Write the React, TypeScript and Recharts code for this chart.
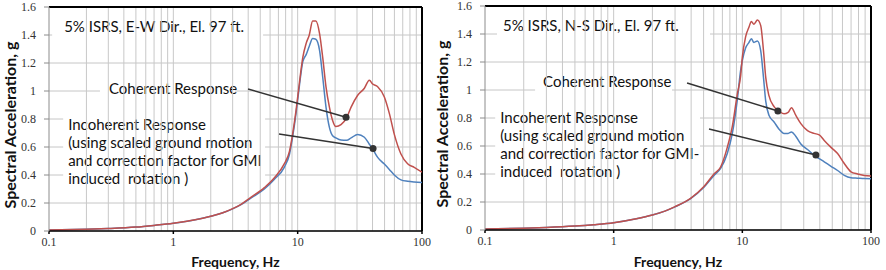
import React from "react"
import { LineChart, Line, XAxis, YAxis, CartesianGrid, ReferenceArea, ReferenceLine, ReferenceDot } from "recharts"

// axis ticks and grid
const xTicks = [0.1, 1, 10, 100]
const yTicks = [0, 0.2, 0.4, 0.6, 0.8, 1, 1.2, 1.4, 1.6]
const gridFreqs = [
  0.2, 0.3, 0.4, 0.5, 0.6, 0.7, 0.8, 0.9,
  1, 2, 3, 4, 5, 6, 7, 8, 9,
  10, 20, 30, 40, 50, 60, 70, 80, 90,
]

// E-W direction
const ewFreq = [
  0.1, 0.2, 0.3, 0.5, 0.7, 1, 1.5, 2, 2.5, 3, 3.5, 4.2, 5.4, 6.5, 7.8,
  8.6, 9.1, 9.7, 10.3, 11, 11.7, 12.4, 13.2, 14, 15, 15.9, 16.9, 18, 19.1, 20.3,
  22.3, 24.8, 26.9, 30.4, 34.4, 37.7, 40.1, 44, 49.8, 54.6, 59.9, 67.7, 76.6, 86.6, 100,
]
const ewCoherent = [
  0.008, 0.013, 0.018, 0.028, 0.04, 0.055, 0.08, 0.106, 0.13, 0.16, 0.19, 0.24, 0.31, 0.38, 0.48,
  0.57, 0.69, 0.86, 1.05, 1.24, 1.34, 1.4, 1.5, 1.5, 1.41, 1.24, 1.03, 0.885, 0.79, 0.746,
  0.76, 0.81, 0.885, 0.97, 1.02, 1.077, 1.05, 1.03, 0.957, 0.84, 0.69, 0.55, 0.48, 0.455, 0.42,
]
const ewIncoherent = [
  0.008, 0.013, 0.018, 0.028, 0.04, 0.055, 0.08, 0.105, 0.13, 0.158, 0.188, 0.235, 0.3, 0.37, 0.455,
  0.55, 0.67, 0.84, 1.03, 1.21, 1.26, 1.32, 1.375, 1.37, 1.29, 1.1, 0.885, 0.74, 0.68, 0.665,
  0.65, 0.648, 0.665, 0.69, 0.67, 0.62, 0.586, 0.526, 0.478, 0.44, 0.4, 0.365, 0.355, 0.35, 0.347,
]

// N-S direction
const nsFreq = [
  0.1, 0.2, 0.3, 0.5, 0.7, 1, 1.5, 2, 2.5, 3, 3.96, 5.03, 6.02, 6.78, 7.64,
  8.36, 9.14, 9.7, 10, 10.6, 11.27, 11.75, 12.3, 13.1, 13.9, 14.6, 15.2, 16.1, 17.7, 19.3,
  21.1, 22.7, 24.1, 26, 28.5, 32.1, 36.1, 39.6, 43.3, 48.9, 55, 62, 69.9, 78.7, 88.7, 100,
]
const nsCoherent = [
  0.008, 0.013, 0.018, 0.028, 0.038, 0.052, 0.08, 0.107, 0.135, 0.167, 0.226, 0.31, 0.4, 0.45, 0.59,
  0.74, 0.97, 1.1, 1.235, 1.38, 1.45, 1.49, 1.47, 1.5, 1.46, 1.28, 1.09, 0.96, 0.88, 0.85,
  0.83, 0.84, 0.874, 0.82, 0.76, 0.71, 0.69, 0.68, 0.64, 0.59, 0.546, 0.475, 0.416, 0.4, 0.39, 0.385,
]
const nsIncoherent = [
  0.008, 0.013, 0.018, 0.028, 0.038, 0.052, 0.08, 0.107, 0.135, 0.165, 0.224, 0.305, 0.39, 0.44, 0.546,
  0.69, 0.93, 1.14, 1.21, 1.3, 1.34, 1.366, 1.34, 1.35, 1.28, 1.09, 0.92, 0.82, 0.77, 0.72,
  0.69, 0.69, 0.7, 0.67, 0.615, 0.575, 0.535, 0.51, 0.487, 0.455, 0.425, 0.39, 0.373, 0.37, 0.367, 0.366,
]

const ewTitle = ["5% ISRS, E-W Dir., El. 97 ft."]
const nsTitle = ["5% ISRS, N-S Dir., El. 97 ft."]
const coherentText = ["Coherent Response"]
const ewIncoherentText = ["Incoherent Response", "(using scaled ground motion", "and correction factor for GMI", "induced  rotation )"]
const nsIncoherentText = ["Incoherent Response", "(using scaled ground motion", "and correction factor for GMI-", "induced  rotation )"]

const RED = "#c0504d"
const BLUE = "#4f81bd"
const TEXT_FONT = "Lato, 'Open Sans', sans-serif"
const TICK_FONT = "'Liberation Serif', serif"

// white label boxes, in data units
const ewNotes = [
  { x1: 0.106, x2: 5.27, y1: 1.343, y2: 1.557, lines: ewTitle, padX: 12, padTop: 19 },
  { x1: 0.257, x2: 3.13, y1: 0.921, y2: 1.093, lines: coherentText, padX: 9, padTop: 16 },
  { x1: 0.13, x2: 5.47, y1: 0.314, y2: 0.829, lines: ewIncoherentText, padX: 5, padTop: 15 },
]
const nsNotes = [
  { x1: 0.124, x2: 5.61, y1: 1.336, y2: 1.55, lines: nsTitle, padX: 6, padTop: 18 },
  { x1: 0.245, x2: 2.84, y1: 0.964, y2: 1.143, lines: coherentText, padX: 8, padTop: 17 },
  { x1: 0.12, x2: 4.69, y1: 0.329, y2: 0.879, lines: nsIncoherentText, padX: 5, padTop: 16 },
]
// leader lines: [x0, y0, x1, y1]
const ewArrows = [
  [3.99, 1.014, 24.5, 0.812],
  [7.08, 0.693, 40.4, 0.59],
]
const nsArrows = [
  [3.72, 1.05, 18.9, 0.85],
  [5.51, 0.721, 37.3, 0.535],
]

function BoxText({ viewBox, note }: any) {
  if (!viewBox) return null
  const x = viewBox.x + note.padX
  return (
    <text x={x} y={viewBox.y + note.padTop} fontFamily={TEXT_FONT} fontSize={15} fill="#111" style={{ whiteSpace: "pre" }}>
      {note.lines.map((l: string, i: number) => (
        <tspan key={i} x={x} dy={i === 0 ? 0 : 18}>{l}</tspan>
      ))}
    </text>
  )
}

function YTitle({ viewBox }: any) {
  if (!viewBox) return null
  const cx = viewBox.x + 9
  const cy = viewBox.y + viewBox.height / 2 + 6
  return (
    <text x={cx} y={cy} transform={`rotate(-90 ${cx} ${cy})`} textAnchor="middle" dominantBaseline="central"
      fontFamily={TEXT_FONT} fontWeight={700} fontSize={16} fill="#111">
      Spectral Acceleration, g
    </text>
  )
}

function XTitle({ viewBox }: any) {
  if (!viewBox) return null
  const cx = viewBox.x + viewBox.width / 2
  const cy = viewBox.y + viewBox.height - 9
  return (
    <text x={cx} y={cy} textAnchor="middle" dominantBaseline="central"
      fontFamily={TEXT_FONT} fontWeight={700} fontSize={14} fill="#111">
      Frequency, Hz
    </text>
  )
}

function SpectrumChart({ width, margin, yAxisWidth, xAxisHeight, freq, coherent, incoherent, notes, arrows }: any) {
  const data = freq.map((f: number, i: number) => ({ f, coherent: coherent[i], incoherent: incoherent[i] }))
  return (
    <LineChart width={width} height={270} data={data} margin={margin} style={{ overflow: "visible" }}>
      <CartesianGrid stroke="#c6c6c6" vertical={false} />
      {gridFreqs.map((g) => (
        <ReferenceLine key={`g${g}`} x={g} stroke="#c8c8c8" strokeWidth={1} />
      ))}
      {notes.map((n: any, i: number) => (
        <ReferenceArea key={`n${i}`} x1={n.x1} x2={n.x2} y1={n.y1} y2={n.y2} fill="#fff" fillOpacity={1}
          stroke="none" ifOverflow="visible" label={{ content: (p: any) => <BoxText viewBox={p.viewBox} note={n} /> }} />
      ))}
      <XAxis dataKey="f" type="number" scale="log" domain={[0.1, 100]} ticks={xTicks} allowDataOverflow
        height={xAxisHeight} tickSize={3} tickMargin={3} stroke="#000" strokeWidth={1.5}
        tick={{ fontFamily: TICK_FONT, fontSize: 12, fill: "#333" }}
        label={{ content: (p: any) => <XTitle viewBox={p.viewBox} /> }} />
      <YAxis type="number" domain={[0, 1.6]} ticks={yTicks} interval={0} width={yAxisWidth}
        tickSize={5} tickMargin={8} stroke="#8c8c8c"
        tick={{ fontFamily: TICK_FONT, fontSize: 12, fill: "#333" }}
        label={{ content: (p: any) => <YTitle viewBox={p.viewBox} /> }} />
      <ReferenceLine y={1.6} stroke="#000" strokeWidth={2} />
      <ReferenceLine x={100} stroke="#000" strokeWidth={2} />
      <Line type="monotone" dataKey="incoherent" stroke={BLUE} strokeWidth={1.5} dot={false} isAnimationActive={false} />
      <Line type="monotone" dataKey="coherent" stroke={RED} strokeWidth={1.5} dot={false} isAnimationActive={false} />
      {arrows.map((a: number[], i: number) => (
        <ReferenceLine key={`a${i}`} segment={[{ x: a[0], y: a[1] }, { x: a[2], y: a[3] }]} stroke="#333" strokeWidth={1.5} ifOverflow="visible" />
      ))}
      {arrows.map((a: number[], i: number) => (
        <ReferenceDot key={`d${i}`} x={a[2]} y={a[3]} r={3.5} fill="#333" stroke="none" ifOverflow="visible" />
      ))}
    </LineChart>
  )
}

export default function App() {
  return (
    <div style={{ position: "absolute", left: 0, top: 0, width: 886, height: 270, background: "#fff", overflow: "hidden" }}>
      <div style={{ position: "absolute", left: 0, top: 0 }}>
        <SpectrumChart width={445} margin={{ top: 7, right: 23, bottom: 0, left: 0 }} yAxisWidth={49} xAxisHeight={39}
          freq={ewFreq} coherent={ewCoherent} incoherent={ewIncoherent} notes={ewNotes} arrows={ewArrows} />
      </div>
      <div style={{ position: "absolute", left: 432, top: 0 }}>
        <SpectrumChart width={454} margin={{ top: 6, right: 15, bottom: 0, left: 0 }} yAxisWidth={53} xAxisHeight={40}
          freq={nsFreq} coherent={nsCoherent} incoherent={nsIncoherent} notes={nsNotes} arrows={nsArrows} />
      </div>
    </div>
  )
}
